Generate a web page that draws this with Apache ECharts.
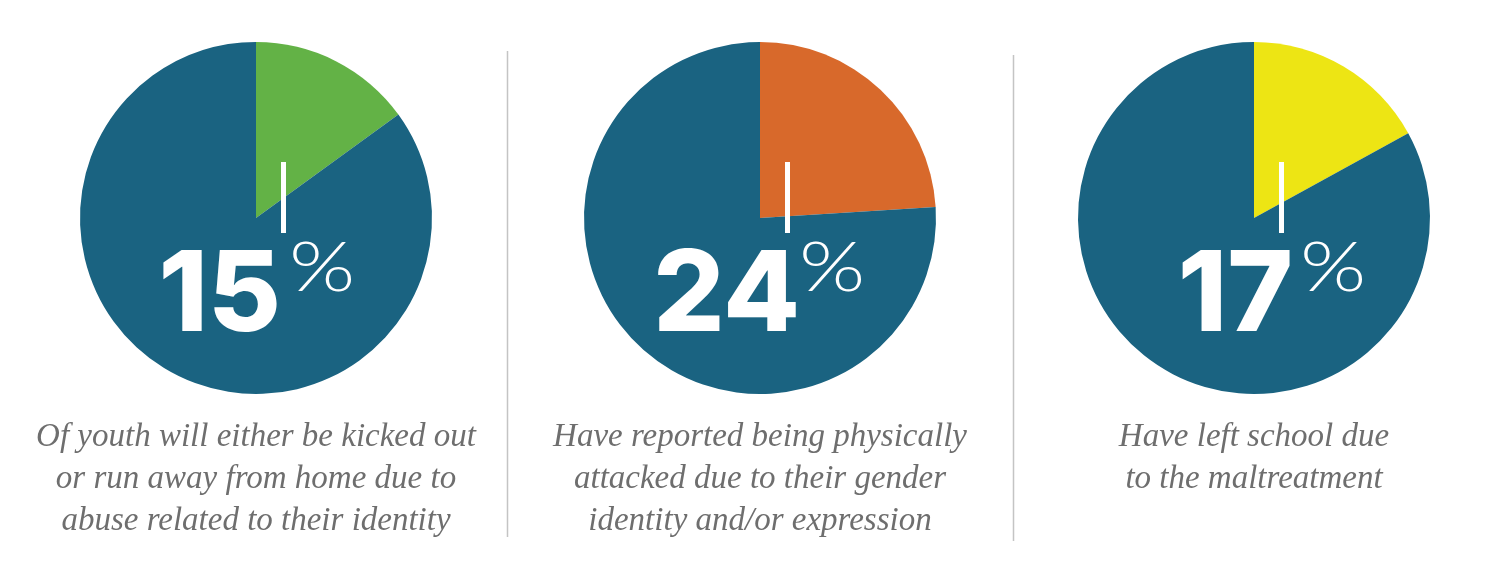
<!DOCTYPE html>
<html>
<head>
<meta charset="utf-8">
<script src="https://cdn.jsdelivr.net/npm/echarts@6/dist/echarts.min.js"></script>
<style>
  html, body { margin: 0; padding: 0; background: #ffffff; }
  #chart { width: 1500px; height: 583px; }
</style>
</head>
<body>
<div id="chart"></div>
<script>
// ---- data ----
const percentages = [15, 24, 17];
const highlightColors = ['#63b246', '#d8692b', '#ede514'];
const restColor = '#1a6381';
const captions = [
  ['Of youth will either be kicked out', 'or run away from home due to', 'abuse related to their identity'],
  ['Have reported being physically', 'attacked due to their gender', 'identity and/or expression'],
  ['Have left school due', 'to the maltreatment']
];

// ---- layout ----
const centersX = [256, 760, 1254];
const centerY = 218;
const radius = 176;
const numberRightOffset = [25, 40, 39];
const percentLeftOffset = [33, 39, 46];

const series = percentages.map((p, i) => ({
  type: 'pie',
  center: [centersX[i], centerY],
  radius: [0, radius],
  startAngle: 90,
  clockwise: true,
  silent: true,
  label: { show: false },
  labelLine: { show: false },
  emphasis: { disabled: true },
  itemStyle: { borderWidth: 0 },
  data: [
    { value: p, name: 'share', itemStyle: { color: highlightColors[i] } },
    { value: 100 - p, name: 'rest', itemStyle: { color: restColor } }
  ]
}));

const graphics = [];
percentages.forEach((p, i) => {
  const cx = centersX[i];
  graphics.push({
    type: 'rect', silent: true,
    shape: { x: cx + 25, y: 162, width: 5, height: 71 },
    style: { fill: '#ffffff' }, z: 10
  });
  graphics.push({
    type: 'text', silent: true, z: 10,
    style: {
      x: cx + numberRightOffset[i], y: 353, text: String(p),
      textAlign: 'right', textVerticalAlign: 'bottom',
      font: '800 112px Inter', fill: '#ffffff'
    }
  });
  graphics.push({
    type: 'text', silent: true, z: 10,
    x: cx + percentLeftOffset[i], y: 269, scaleX: 1.25, scaleY: 1,
    style: {
      x: 0, y: 0, text: '%',
      textAlign: 'left', textVerticalAlign: 'middle',
      font: '300 68px Lato', fill: '#ffffff'
    }
  });
  captions[i].forEach((line, j) => {
    graphics.push({
      type: 'text', silent: true,
      style: {
        x: cx, y: 437 + j * 42, text: line,
        textAlign: 'center', textVerticalAlign: 'middle',
        font: 'italic 33px "Liberation Serif"', fill: '#6e6e6e'
      }
    });
  });
});
graphics.push({ type: 'line', silent: true, shape: { x1: 507.5, y1: 51, x2: 507.5, y2: 537 }, style: { stroke: '#c4c4c4', lineWidth: 1.5 } });
graphics.push({ type: 'line', silent: true, shape: { x1: 1013.5, y1: 55, x2: 1013.5, y2: 541 }, style: { stroke: '#c4c4c4', lineWidth: 1.5 } });

const chart = echarts.init(document.getElementById('chart'), null, { renderer: 'canvas' });
chart.setOption({
  backgroundColor: '#ffffff',
  animation: false,
  series: series,
  graphic: graphics
});
</script>
</body>
</html>
